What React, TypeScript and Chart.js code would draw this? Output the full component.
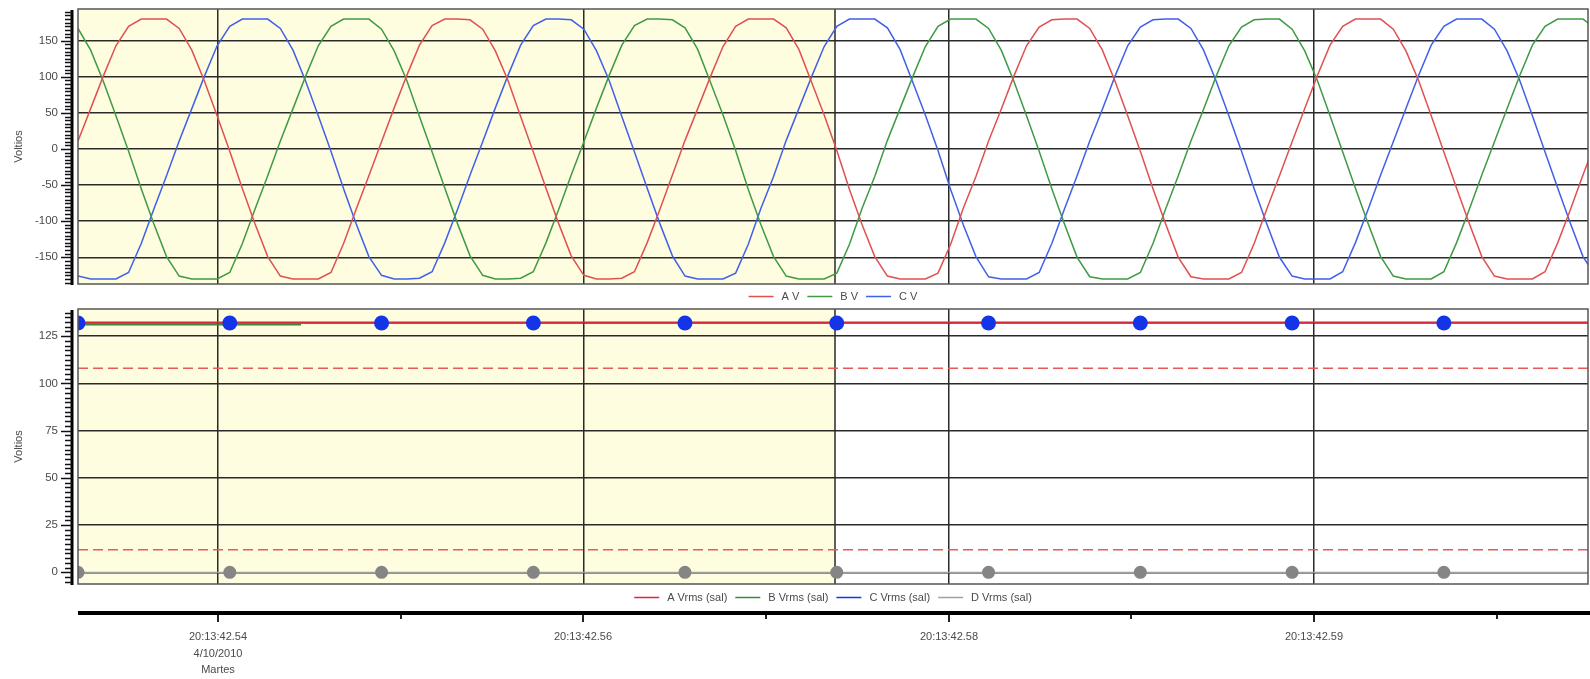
import React, { useEffect, useRef } from 'react';
import { Chart, registerables } from 'chart.js';

Chart.register(...registerables);

// ---------- data ----------
const waveStartMs = 32.33; // ms after 20:13:42.500
const waveStepMs = 0.6924;

const voltsA = [
  11, 56, 101, 143, 170, 180, 180, 180, 167, 137, 94, 46, -3, -55, -104, -149, -176, -180, -180, -180, -171, -131, -83, -37,
  10, 57, 102, 144, 171, 180, 180, 179, 166, 136, 95, 45, -4, -54, -103, -148, -175, -180, -180, -179, -170, -130, -84, -36,
  12, 56, 100, 142, 170, 180, 180, 180, 168, 138, 93, 47, -2, -56, -105, -149, -176, -180, -180, -180, -172, -132, -82, -38,
  11, 55, 101, 143, 169, 179, 180, 180, 167, 137, 94, 46, -3, -55, -104, -150, -177, -180, -180, -180, -171, -131, -83, -37,
  10, 56, 102, 144, 170, 180, 180, 180, 166, 136, 95, 46, -4, -54, -103, -149, -176, -180, -180, -180, -170, -130, -84, -36,
  11,
];
const voltsB = [
  167, 137, 94, 46, -3, -55, -104, -149, -176, -180, -180, -180, -171, -131, -83, -37, 11, 56, 101, 143, 170, 180, 180, 180,
  166, 136, 95, 45, -4, -54, -103, -148, -175, -180, -180, -179, -170, -130, -84, -36, 10, 57, 102, 144, 171, 180, 180, 179,
  168, 138, 93, 47, -2, -56, -105, -149, -176, -180, -180, -180, -172, -132, -82, -38, 12, 56, 100, 142, 170, 180, 180, 180,
  167, 137, 94, 46, -3, -55, -104, -150, -177, -180, -180, -180, -171, -131, -83, -37, 11, 55, 101, 143, 169, 179, 180, 180,
  166, 136, 95, 46, -4, -54, -103, -149, -176, -180, -180, -180, -170, -130, -84, -36, 10, 56, 102, 144, 170, 180, 180, 180,
  167,
];
const voltsC = [
  -176, -180, -180, -180, -171, -131, -83, -37, 11, 56, 101, 143, 170, 180, 180, 180, 167, 137, 94, 46, -3, -55, -104, -149,
  -175, -180, -180, -179, -170, -130, -84, -36, 10, 57, 102, 144, 171, 180, 180, 179, 166, 136, 95, 45, -4, -54, -103, -148,
  -176, -180, -180, -180, -172, -132, -82, -38, 12, 56, 100, 142, 170, 180, 180, 180, 168, 138, 93, 47, -2, -56, -105, -149,
  -177, -180, -180, -180, -171, -131, -83, -37, 11, 55, 101, 143, 169, 179, 180, 180, 167, 137, 94, 46, -3, -55, -104, -150,
  -176, -180, -180, -180, -170, -130, -84, -36, 10, 56, 102, 144, 170, 180, 180, 180, 166, 136, 95, 46, -4, -54, -103, -149,
  -176,
];

const rmsTimesMs = [32.33, 40.64, 48.95, 57.26, 65.56, 73.87, 82.18, 90.49, 98.8, 107.11, 115.41];
const rmsA = [132.4, 132.4, 132.4, 132.4, 132.4, 132.4, 132.4, 132.4, 132.4, 132.4, 132.4];
const rmsBTimesMs = [32.33, 40.64, 44.54];
const rmsB = [131.1, 131.1, 131.1];
const rmsC = [132, 132, 132, 132, 132, 132, 132, 132, 132, 132, 132];
const rmsD = [0, 0, 0, 0, 0, 0, 0, 0, 0, 0, 0];
const limitHighV = 108;
const limitLowV = 12;

const xMinMs = 32.33;
const xMaxMs = 115.0;
const cursorMs = 73.8;
const majorTicksMs = [40, 60, 80, 100];
const minorTicksMs = [50, 70, 90, 110];
const xTickLabels = [['20:13:42.54', '4/10/2010', 'Martes'], ['20:13:42.56'], ['20:13:42.58'], ['20:13:42.59']];
const waveYTicks = [-150, -100, -50, 0, 50, 100, 150];
const rmsYTicks = [0, 25, 50, 75, 100, 125];
const waveLabels = ['A V', 'B V', 'C V'];
const rmsLabels = ['A Vrms (sal)', 'B Vrms (sal)', 'C Vrms (sal)', 'D Vrms (sal)'];
const yTitle = 'Voltios';

// ---------- styles ----------
const FONT = '"Liberation Sans", Arial, sans-serif';
const TEXT = '#4a4a4a';
const GRID = '#2a2a2a';
const SHADE = '#fefde0';

const panelPlugin: any = {
  id: 'panel',
  beforeDraw(chart: any, _a: any, o: any) {
    const { ctx, chartArea: ca, scales } = chart;
    const xc = scales.x.getPixelForValue(o.cursor);
    ctx.save();
    ctx.fillStyle = SHADE;
    ctx.fillRect(ca.left, ca.top, xc - ca.left, ca.bottom - ca.top);
    ctx.restore();
  },
  beforeDatasetsDraw(chart: any, _a: any, o: any) {
    const { ctx, chartArea: ca, scales } = chart;
    const xc = Math.round(scales.x.getPixelForValue(o.cursor));
    ctx.save();
    ctx.strokeStyle = GRID;
    ctx.lineWidth = 1.5;
    ctx.beginPath();
    ctx.moveTo(xc, ca.top);
    ctx.lineTo(xc, ca.bottom);
    ctx.stroke();
    ctx.restore();
  },
  afterDraw(chart: any, _a: any, o: any) {
    const { ctx, chartArea: ca, scales } = chart;
    ctx.save();
    // frame
    ctx.strokeStyle = '#555';
    ctx.lineWidth = 1.5;
    ctx.strokeRect(ca.left, ca.top, ca.right - ca.left, ca.bottom - ca.top);

    // y axis: thick line + dense ticks
    const ys = scales.y;
    const ax = ca.left - 6;
    ctx.fillStyle = '#000';
    ctx.fillRect(ax - 1.5, ca.top + 1, 3, ca.bottom - ca.top);
    ctx.strokeStyle = '#111';
    ctx.lineWidth = 1.5;
    const step = o.minorStep;
    const start = Math.ceil(ys.min / step) * step;
    for (let v = start; v <= ys.max + 1e-9; v += step) {
      const y = Math.round(ys.getPixelForValue(v)) + 0.5;
      const isMajor = ys.ticks.some((t: any) => Math.abs(t.value - v) < 1e-6);
      ctx.beginPath();
      ctx.moveTo(ax - (isMajor ? 11 : 7), y);
      ctx.lineTo(ax, y);
      ctx.stroke();
    }

    // legend
    const items = chart.data.datasets.filter((d: any) => d.label);
    ctx.font = `11px ${FONT}`;
    const lineLen = 25;
    const gapText = 8;
    const gapItem = 8;
    const widths = items.map((d: any) => ctx.measureText(d.label).width);
    const total =
      widths.reduce((s: number, w: number) => s + w, 0) +
      items.length * (lineLen + gapText) +
      (items.length - 1) * gapItem;
    let x = (ca.left + ca.right) / 2 - total / 2;
    const ly = Math.round(ca.bottom + o.legendGap) + 0.5;
    items.forEach((d: any, i: number) => {
      ctx.strokeStyle = d.borderColor;
      ctx.lineWidth = 1.5;
      ctx.beginPath();
      ctx.moveTo(x, ly);
      ctx.lineTo(x + lineLen, ly);
      ctx.stroke();
      x += lineLen + gapText;
      ctx.fillStyle = TEXT;
      ctx.textBaseline = 'middle';
      ctx.textAlign = 'left';
      ctx.fillText(d.label, x, ly);
      x += widths[i] + gapItem;
    });

    // bottom time axis
    if (o.timeAxis) {
      const xs = scales.x;
      const axY = ca.bottom + 29;
      ctx.fillStyle = '#000';
      ctx.fillRect(ca.left, axY - 2, chart.width - ca.left, 4);
      ctx.strokeStyle = '#222';
      ctx.lineWidth = 2;
      xs.ticks.forEach((t: any) => {
        const px = Math.round(xs.getPixelForValue(t.value));
        const k = majorTicksMs.indexOf(t.value);
        ctx.beginPath();
        ctx.moveTo(px, axY + 2);
        ctx.lineTo(px, axY + (k >= 0 ? 9 : 6));
        ctx.stroke();
        if (k >= 0) {
          ctx.fillStyle = TEXT;
          ctx.font = `11px ${FONT}`;
          ctx.textAlign = 'center';
          ctx.textBaseline = 'middle';
          xTickLabels[k].forEach((line: string, j: number) => {
            ctx.fillText(line, px, axY + 24 + j * 16.5);
          });
        }
      });
    }
    ctx.restore();
  },
};

function yScale(min: number, max: number, ticks: number[]) {
  return {
    type: 'linear',
    min,
    max,
    afterFit: (s: any) => {
      s.width = 78;
      s.paddingTop = 0;
      s.paddingBottom = 0;
    },
    afterBuildTicks: (s: any) => {
      s.ticks = ticks.map((v) => ({ value: v }));
    },
    ticks: {
      padding: 20,
      color: TEXT,
      font: { family: FONT, size: 11.5 },
      callback: (v: any) => String(v),
    },
    grid: { color: GRID, lineWidth: 1.5, drawTicks: false },
    border: { display: false },
    title: {
      display: true,
      text: yTitle,
      color: TEXT,
      font: { family: FONT, size: 11 },
      padding: { top: 12, bottom: 0 },
    },
  };
}

function xScale(height: number, tickValues: number[]) {
  return {
    type: 'linear',
    min: xMinMs,
    max: xMaxMs,
    afterBuildTicks: (s: any) => {
      s.ticks = tickValues.map((v) => ({ value: v }));
    },
    afterFit: (s: any) => {
      s.height = height;
      s.paddingLeft = 0;
      s.paddingRight = 0;
    },
    ticks: { display: false },
    grid: {
      color: (c: any) => (c.tick && majorTicksMs.indexOf(c.tick.value) >= 0 ? GRID : 'rgba(0,0,0,0)'),
      lineWidth: 1.5,
      drawTicks: false,
    },
    border: { display: false },
  };
}

const waveTimes = voltsA.map((_, i) => waveStartMs + i * waveStepMs);

export default function App() {
  const topRef = useRef<HTMLCanvasElement>(null);
  const botRef = useRef<HTMLCanvasElement>(null);

  useEffect(() => {
    const wave = (vals: number[]) => vals.map((v, i) => ({ x: waveTimes[i], y: v }));
    const pts = (xs: number[], vals: number[]) => vals.map((v, i) => ({ x: xs[i], y: v }));
    const common = (extra: any) => ({
      animation: false,
      responsive: false,
      devicePixelRatio: 1,
      events: [],
      layout: { autoPadding: false, padding: { top: 9, right: 2, left: 0, bottom: 0 } },
      plugins: {
        legend: { display: false },
        tooltip: { enabled: false },
        panel: extra.panel,
      },
      scales: extra.scales,
    });

    const top = new Chart(topRef.current as HTMLCanvasElement, {
      type: 'line',
      data: {
        datasets: [
          { label: waveLabels[0], data: wave(voltsA), borderColor: '#e05050', borderWidth: 1.5 },
          { label: waveLabels[1], data: wave(voltsB), borderColor: '#3f9a44', borderWidth: 1.5 },
          { label: waveLabels[2], data: wave(voltsC), borderColor: '#4060e8', borderWidth: 1.5 },
        ].map((d) => ({ ...d, pointRadius: 0, tension: 0, clip: 0, fill: false })),
      } as any,
      options: common({
        panel: { cursor: cursorMs, minorStep: 5, legendGap: 12, timeAxis: false },
        scales: { x: xScale(16, majorTicksMs), y: yScale(-187, 194, waveYTicks) },
      }) as any,
      plugins: [panelPlugin],
    });

    const allX = [...majorTicksMs, ...minorTicksMs].sort((a, b) => a - b);
    const bot = new Chart(botRef.current as HTMLCanvasElement, {
      type: 'line',
      data: {
        datasets: [
          {
            label: rmsLabels[0], data: pts(rmsTimesMs, rmsA), borderColor: '#d8283c', borderWidth: 1.5,
            pointRadius: 0, order: 1,
          },
          {
            label: rmsLabels[1], data: pts(rmsBTimesMs, rmsB), borderColor: '#3a8a3e', borderWidth: 1.5,
            pointRadius: 0, order: 3,
          },
          {
            label: rmsLabels[2], data: pts(rmsTimesMs, rmsC), borderColor: '#1434e8', borderWidth: 1.5,
            pointRadius: 0, order: 2,
          },
          {
            label: rmsLabels[3], data: pts(rmsTimesMs, rmsD), borderColor: '#a0a0a0', borderWidth: 1.2,
            pointRadius: 6.5, pointBackgroundColor: '#858585', pointBorderWidth: 0, order: 0,
          },
          {
            label: '', data: pts(rmsTimesMs, rmsC), borderColor: '#1434e8', showLine: false,
            pointRadius: 7.5, pointBackgroundColor: '#1434e8', pointBorderWidth: 0, order: 0,
          },
          {
            label: '', data: pts([xMinMs, xMaxMs], [limitHighV, limitHighV]), borderColor: '#e65a5a',
            borderWidth: 1.5, borderDash: [10, 5], pointRadius: 0, order: 4,
          },
          {
            label: '', data: pts([xMinMs, xMaxMs], [limitLowV, limitLowV]), borderColor: '#e65a5a',
            borderWidth: 1.5, borderDash: [10, 5], pointRadius: 0, order: 4,
          },
        ].map((d) => ({ ...d, tension: 0, clip: 0, fill: false })),
      } as any,
      options: common({
        panel: { cursor: cursorMs, minorStep: 2.5, legendGap: 13, timeAxis: true },
        scales: { x: xScale(95, allX), y: yScale(-6.2, 139.4, rmsYTicks) },
      }) as any,
      plugins: [panelPlugin],
    });

    return () => {
      top.destroy();
      bot.destroy();
    };
  }, []);

  return (
    <div style={{ position: 'absolute', left: 0, top: 0, width: 1590, height: 679, background: '#fff' }}>
      <canvas ref={topRef} width={1590} height={300} style={{ display: 'block', width: 1590, height: 300 }} />
      <canvas ref={botRef} width={1590} height={379} style={{ display: 'block', width: 1590, height: 379 }} />
    </div>
  );
}
